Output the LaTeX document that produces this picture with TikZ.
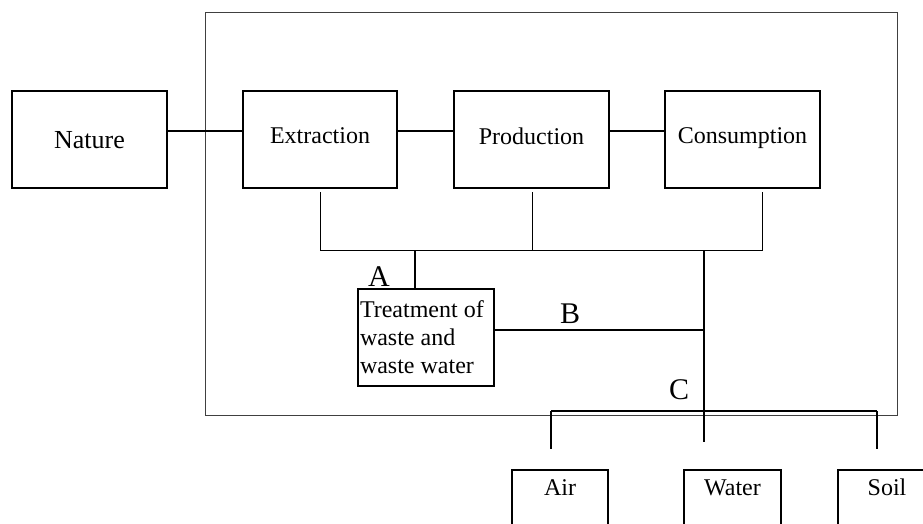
\documentclass[tikz,border=0pt]{standalone}
\usepackage{fontspec}
\setmainfont{Liberation Serif}
\begin{document}
\begin{tikzpicture}[x=1pt,y=-1pt,
  stagebox/.style={draw,line width=2.3pt,minimum width=155pt,minimum height=97pt,
    inner sep=0pt,text depth=7pt,font=\fontsize{24}{28}\selectfont},
  sinkbox/.style={draw,line width=2.3pt,anchor=north,minimum width=97pt,
    inner xsep=0pt,inner ysep=9pt,text height=16pt,text depth=60pt,
    font=\fontsize{24}{28}\selectfont},
  link/.style={line width=1.4pt},
  thinlink/.style={line width=1pt},
  letter/.style={font=\fontsize{30}{34}\selectfont,inner sep=0pt}]
\useasboundingbox (0,0) rectangle (923,523);
\clip (0,0) rectangle (923,523);

% system boundary
\draw[line width=1pt,black!75] (205,12) rectangle (897,415);

% chain of activities
\node[stagebox,font=\fontsize{26}{30}\selectfont,text depth=0pt] (nature) at (89.5,139.5) {Nature};
\node[stagebox,minimum width=154pt] (extr) at (320,139.5) {Extraction};
\node[stagebox] (prod) at (531.5,139.5) {Production};
\node[stagebox] (cons) at (742.5,139.5) {Consumption};

\draw[link] ([yshift=8.5pt]nature.east) -- ([yshift=8.5pt]extr.west);
\draw[link] ([yshift=8.5pt]extr.east) -- ([yshift=8.5pt]prod.west);
\draw[link] ([yshift=8.5pt]prod.east) -- ([yshift=8.5pt]cons.west);

% waste collection bus
\coordinate (bl) at (320,250);
\coordinate (bm) at (532,250);
\coordinate (br) at (762,250);
\coordinate (ja) at (415,250);
\coordinate (jw) at (704,250);
\draw[thinlink] ([yshift=-3pt]extr.south) -- (bl) -- (br) -- ([xshift=19.5pt,yshift=-3pt]cons.south);
\draw[thinlink] ([xshift=0.5pt,yshift=-3pt]prod.south) -- (bm);

% treatment
\node[draw,line width=2.3pt,text width=132pt,minimum height=97pt,inner xsep=2pt,inner ysep=0pt,
  align=flush left,font=\fontsize{24}{28}\selectfont] (treat) at (426,337.5)
  {Treatment of\\waste and\\waste water};
\draw[link] (ja) -- (ja |- treat.north);
\node[letter] (la) at (379,277) {A};

\coordinate (jb) at (704,330);
\coordinate (jc) at (704,442);
\draw[link] (jw) -- (jc);
\draw[link] ([yshift=7.5pt]treat.east) -- (jb);
\node[letter] (lb) at (570,314) {B};

% distribution to the environment
\coordinate (cl) at (551,411);
\coordinate (cr) at (877,411);
\draw[link] (cl) -- (cr);
\draw[link] (cl) -- (551,449);
\draw[link] (cr) -- (877,449);
\node[letter] (lc) at (679,390) {C};

\node[sinkbox,minimum width=96pt] (air) at (560,469) {Air};
\node[sinkbox] (water) at (732.5,469) {Water};
\node[sinkbox,minimum width=98pt] (soil) at (887,469) {Soil};
\end{tikzpicture}
\end{document}
